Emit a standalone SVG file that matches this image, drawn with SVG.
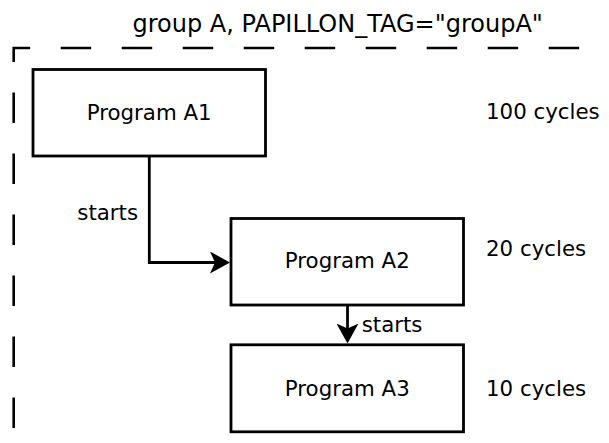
<svg xmlns="http://www.w3.org/2000/svg" width="609" height="443" viewBox="0 0 609 443">
<style>
text{font-family:"DejaVu Sans","Liberation Sans",sans-serif;font-size:21.33px;fill:#000}
.title{font-size:24px}
.box{fill:#fff;stroke:#000;stroke-width:2.8}
.edge{fill:none;stroke:#000;stroke-width:2.8}
.group{fill:none;stroke:#000;stroke-width:2.6;stroke-dasharray:30.5 30.5}
</style>
<defs>
<marker id="arrow" markerUnits="userSpaceOnUse" viewBox="0 0 20 22" markerWidth="20" markerHeight="22" refX="15" refY="11" orient="auto">
<path d="M0,0 L20,11 L0,22 L5,11 Z" fill="#000"/>
</marker>
</defs>
<g id="groupA">
<path class="group" d="M13.7,428 V48 H640"/>
<text class="title" x="337.7" y="32.3" text-anchor="middle">group A, PAPILLON_TAG="groupA"</text>
</g>
<g id="connectors">
<path class="edge" d="M149.3,156 V262.5 H225" marker-end="url(#arrow)"/>
<text x="77.3" y="220">starts</text>
<path class="edge" d="M347.5,305 V338.5" marker-end="url(#arrow)"/>
<text x="361.7" y="331.7">starts</text>
</g>
<g id="programA1">
<rect class="box" x="33" y="69.5" width="232.5" height="86.5"/>
<text x="149.2" y="120" text-anchor="middle">Program A1</text>
<text x="486" y="118.5">100 cycles</text>
</g>
<g id="programA2">
<rect class="box" x="231" y="218.5" width="232.5" height="86.5"/>
<text x="347.3" y="268.3" text-anchor="middle">Program A2</text>
<text x="486" y="256">20 cycles</text>
</g>
<g id="programA3">
<rect class="box" x="231" y="344.8" width="232.5" height="87"/>
<text x="347.3" y="395.5" text-anchor="middle">Program A3</text>
<text x="486" y="395.5">10 cycles</text>
</g>
</svg>
